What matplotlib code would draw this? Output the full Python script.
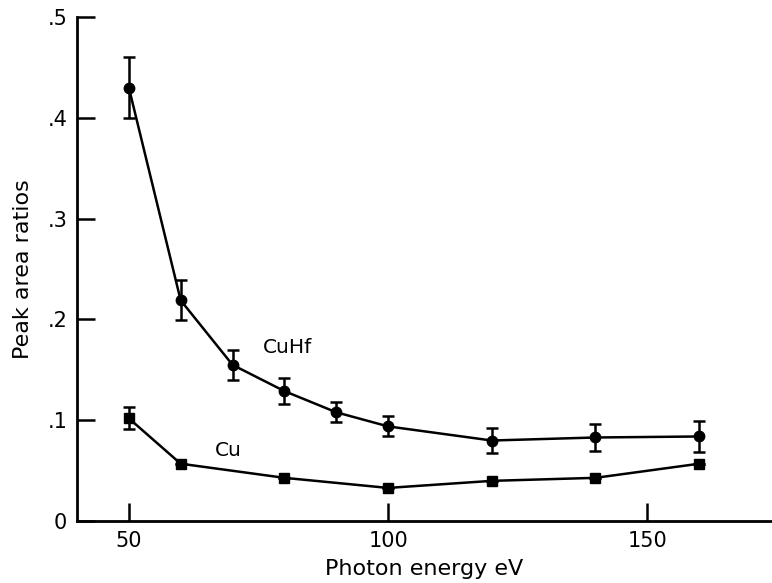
import matplotlib
matplotlib.use("Agg")
import matplotlib.pyplot as plt

plt.rcParams['font.family'] = ['DejaVu Sans']

energy_cuhf = [50, 60, 70, 80, 90, 100, 120, 140, 160]
ratio_cuhf = [0.430, 0.219, 0.155, 0.129, 0.108, 0.094, 0.080, 0.083, 0.084]
err_cuhf = [0.030, 0.020, 0.015, 0.013, 0.010, 0.010, 0.012, 0.013, 0.015]

energy_cu = [50, 60, 80, 100, 120, 140, 160]
ratio_cu = [0.102, 0.057, 0.043, 0.033, 0.040, 0.043, 0.057]
err_cu = [0.011, 0, 0, 0, 0, 0, 0]

fig = plt.figure(figsize=(7.72, 5.83), dpi=100)
ax = fig.add_axes([0.0997, 0.106, 0.9, 0.865])

ax.errorbar(energy_cuhf, ratio_cuhf, yerr=err_cuhf, color='black', lw=1.8,
            marker='o', ms=7.5, capsize=4, capthick=1.8, elinewidth=1.8)
ax.errorbar(energy_cu, ratio_cu, yerr=err_cu, color='black', lw=1.8,
            marker='s', ms=7.5, capsize=4, capthick=1.8, elinewidth=1.8)

ax.text(75.8, 0.172, 'CuHf', fontsize=14.5, va='center', ha='left')
ax.text(66.6, 0.070, 'Cu', fontsize=14.5, va='center', ha='left')

ax.set_xlim(40, 174)
ax.set_ylim(0, 0.5)
ax.set_xticks([50, 100, 150])
ax.set_yticks([0, 0.1, 0.2, 0.3, 0.4, 0.5])
ax.set_yticklabels(['0', '.1', '.2', '.3', '.4', '.5'])
ax.tick_params(direction='in', length=13, width=1.8, labelsize=15, pad=7)

for s in ['top', 'right']:
    ax.spines[s].set_visible(False)
for s in ['left', 'bottom']:
    ax.spines[s].set_linewidth(2)

ax.set_xlabel('Photon energy eV', fontsize=16, labelpad=6)
ax.set_ylabel('Peak area ratios', fontsize=16, labelpad=10)

fig.savefig('out.png', dpi=100)
